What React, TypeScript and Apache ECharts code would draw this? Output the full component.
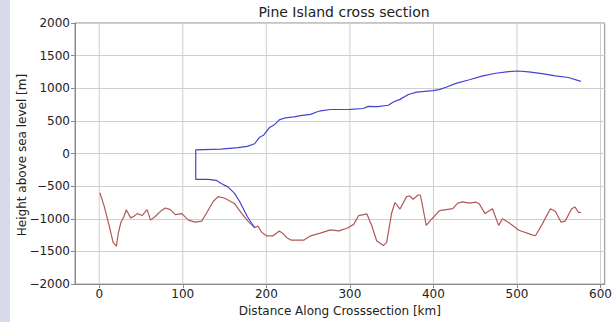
import React, { useEffect, useRef } from "react";
import * as echarts from "echarts";

const titleText = "Pine Island cross section";
const xName = "Distance Along Crosssection [km]";
const yName = "Height above sea level [m]";
const xTicks = [0, 100, 200, 300, 400, 500, 600];
const yMin = -2000;
const yMax = 2000;

// Ice surface / ice-shelf outline (blue)
const surfKm = [185.9, 182, 177, 172, 168, 162, 154, 146, 140, 130.5, 115.5, 115.5, 146, 166, 177, 186, 191.5, 197, 203.5, 209.5, 215.5, 223, 233, 241, 253, 261, 265, 276.5, 300.5, 316, 322, 333, 346, 352, 360, 370, 380, 399.5, 407, 415, 427, 443, 459, 474.5, 490, 501, 514, 530, 546, 561.5, 576.5];
const surfM = [-1135, -1060, -960, -835, -735, -610, -510, -460, -410, -395, -395, 55, 68, 90, 110, 150, 245, 285, 395, 440, 515, 548, 563, 580, 600, 640, 655, 675, 677, 690, 722, 718, 740, 790, 830, 905, 940, 965, 980, 1015, 1075, 1130, 1190, 1230, 1255, 1265, 1250, 1225, 1190, 1165, 1105];

// Bed (red)
const bedKm = [0.8, 6, 12, 16.6, 20.5, 23, 25.8, 29.7, 32.4, 37.6, 41.5, 45.5, 51.3, 57.3, 61.4, 67.3, 73.3, 79.2, 85.1, 91, 98.9, 106.7, 114.7, 122.6, 128.5, 136.4, 142.4, 150.3, 162.2, 170, 178, 186, 190, 194, 200, 208, 215.6, 219.4, 224, 229.4, 245.2, 253, 264.6, 276.7, 286.8, 296.6, 304.6, 310.5, 320.4, 326.3, 332, 340, 344, 350, 354, 360, 367.9, 371.8, 375.7, 381.6, 384.4, 391.4, 397.5, 407.3, 423.2, 429.1, 435, 442.7, 450.8, 454.8, 461.8, 470.7, 478, 482.6, 490.4, 502.3, 518.2, 522.1, 530, 540, 545.9, 552.6, 557.6, 565.5, 569.5, 573.5, 576.5];
const bedM = [-600, -810, -1110, -1360, -1420, -1210, -1060, -960, -860, -985, -960, -920, -950, -860, -1020, -960, -885, -835, -860, -935, -920, -1020, -1050, -1035, -910, -735, -660, -685, -770, -910, -1035, -1135, -1110, -1200, -1260, -1260, -1185, -1220, -1285, -1325, -1325, -1260, -1220, -1170, -1185, -1145, -1085, -950, -925, -1110, -1335, -1410, -1360, -910, -750, -850, -660, -650, -700, -635, -635, -1100, -1010, -875, -845, -760, -740, -760, -745, -770, -920, -845, -1100, -1000, -1060, -1175, -1245, -1260, -1085, -845, -885, -1050, -1035, -845, -820, -900, -900];

const FONT = "DejaVu Sans";
const fmt = (v: number) => (v < 0 ? "\u2212" + Math.abs(v) : String(v));

export default function App() {
  const ref = useRef<HTMLDivElement>(null);
  useEffect(() => {
    const chart = echarts.init(ref.current!, null, { renderer: "svg" });
    const gridColor = "#cfcfcf";
    const frameColor = "#8a8a8a";
    const gridSeries = xTicks.map((v) => ({
      type: "line",
      z: 1,
      silent: true,
      showSymbol: false,
      data: [
        [v, yMin],
        [v, yMax],
      ],
      lineStyle: { color: gridColor, width: 1 },
    }));
    chart.setOption({
      animation: false,
      backgroundColor: "#ffffff",
      grid: {
        left: 75,
        top: 23,
        width: 535,
        height: 266,
        show: true,
        borderColor: frameColor,
        borderWidth: 1,
        backgroundColor: "transparent",
      },
      graphic: [
        {
          type: "rect",
          shape: { x: 0, y: 0, width: 10, height: 322 },
          style: { fill: "#d9d9ec" },
          z: -10,
        },
        {
          type: "text",
          x: 344,
          y: 12,
          style: {
            text: titleText,
            textAlign: "center",
            textVerticalAlign: "middle",
            fontFamily: FONT,
            fontSize: 14,
            fill: "#222",
          },
        },
        {
          type: "text",
          x: 22,
          y: 155,
          rotation: Math.PI / 2,
          style: {
            text: yName,
            textAlign: "center",
            textVerticalAlign: "middle",
            fontFamily: FONT,
            fontSize: 12,
            fill: "#222",
          },
        },
      ],
      xAxis: {
        type: "value",
        min: -29,
        max: 605,
        name: xName,
        nameLocation: "middle",
        nameGap: 17,
        nameTextStyle: { fontFamily: FONT, fontSize: 12, color: "#222" },
        axisLine: { show: true, onZero: false, lineStyle: { color: frameColor } },
        axisTick: { show: true, length: 4, customValues: xTicks, lineStyle: { color: frameColor } },
        axisLabel: { customValues: xTicks, margin: 4, fontFamily: FONT, fontSize: 12, color: "#222", formatter: fmt },
        splitLine: { show: false },
      },
      yAxis: {
        type: "value",
        min: yMin,
        max: yMax,
        interval: 500,
        axisLine: { show: true, onZero: false, lineStyle: { color: frameColor } },
        axisTick: { show: true, length: 4, lineStyle: { color: frameColor } },
        axisLabel: { margin: 5, fontFamily: FONT, fontSize: 12, color: "#222", formatter: fmt },
        splitLine: { show: true, lineStyle: { color: gridColor, width: 1 } },
      },
      series: [
        ...gridSeries,
        {
          type: "line",
          z: 3,
          showSymbol: false,
          data: bedKm.map((x, i) => [x, bedM[i]]),
          lineStyle: { color: "#b35858", width: 1.2 },
        },
        {
          type: "line",
          z: 4,
          showSymbol: false,
          data: surfKm.map((x, i) => [x, surfM[i]]),
          lineStyle: { color: "#4343d0", width: 1.2 },
        },
      ],
    });
    return () => chart.dispose();
  }, []);
  return (
    <div
      ref={ref}
      style={{ position: "absolute", left: 0, top: 0, width: 615, height: 322 }}
    />
  );
}
